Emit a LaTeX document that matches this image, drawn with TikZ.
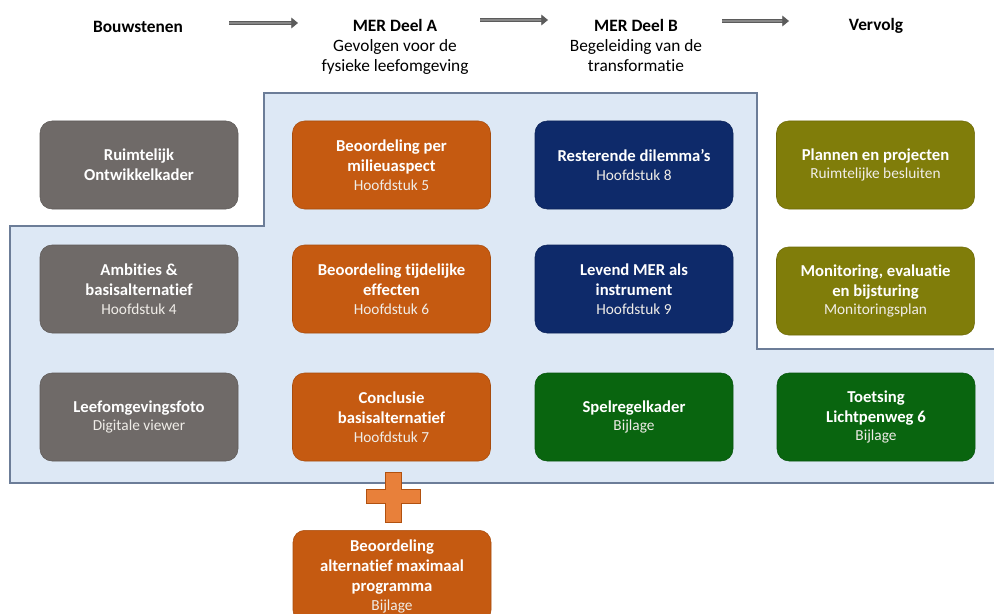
\documentclass[tikz,border=0pt]{standalone}
\usepackage{fontspec}
\setmainfont{Carlito}[Ligatures=NoCommon]
\usetikzlibrary{arrows.meta}
\definecolor{cgray}{HTML}{6F6A68}
\definecolor{corange}{HTML}{C55A11}
\definecolor{cplus}{HTML}{E8803A}
\definecolor{cnavy}{HTML}{0E2A6A}
\definecolor{colive}{HTML}{807D0A}
\definecolor{cgreen}{HTML}{09650F}
\definecolor{cregion}{HTML}{DDE8F5}
\definecolor{cregionline}{HTML}{6C7D98}
\definecolor{csub}{HTML}{F0EDE8}
\definecolor{carrow}{HTML}{7A7A7A}
\tikzset{
  boxbase/.style={rounded corners=9pt, minimum width=148.5pt, minimum height=66pt,
    align=center, text=white, inner sep=2pt,
    font=\fontsize{12.5}{15}\selectfont\bfseries},
  graybox/.style={boxbase, fill=cgray, draw=cgray!85!black, line width=0.4pt},
  orangebox/.style={boxbase, fill=corange, draw=corange!85!black, line width=0.4pt},
  navybox/.style={boxbase, fill=cnavy, draw=cnavy!85!black, line width=0.4pt},
  olivebox/.style={boxbase, fill=colive, draw=colive!85!black, line width=0.4pt},
  greenbox/.style={boxbase, fill=cgreen, draw=cgreen!85!black, line width=0.4pt},
  headtext/.style={align=center, font=\fontsize{13}{15}\selectfont, inner sep=0pt},
  headarrow/.style={draw=carrow!75!black, line width=0.6pt, double=carrow!90,
    double distance=2.2pt, -{Triangle[length=5pt,width=8pt,fill=carrow!75!black]}},
}
\newcommand{\subt}[1]{\\[-1pt]{\fontsize{11.5}{14}\selectfont\mdseries\color{csub}#1}}
\begin{document}
\begin{tikzpicture}[x=0.75pt,y=-0.75pt]
\useasboundingbox (0,0) rectangle (994,613);
\begin{scope}
\clip (0,0) rectangle (994,613);
% region
\draw[fill=cregion, draw=cregionline, line width=1.1pt]
  (264,93) -- (757,93) -- (757,349) -- (1000,349) -- (1000,483) -- (10,483)
  -- (10,226) -- (264,226) -- cycle;

% header
\node[headtext, font=\fontsize{13}{15}\selectfont\bfseries] (h1) at (138,27) {Bouwstenen};
\node[headtext, anchor=north] (h2) at (395,19) {\textbf{MER Deel A}\\Gevolgen voor de\\fysieke leefomgeving};
\node[headtext, anchor=north] (h3) at (636,19) {\textbf{MER Deel B}\\Begeleiding van de\\transformatie};
\node[headtext, font=\fontsize{13}{15}\selectfont\bfseries] (h4) at (876,26) {Vervolg};
\coordinate (a1s) at (229,23); \coordinate (a1e) at (298,23);
\coordinate (a2s) at (480,20); \coordinate (a2e) at (548,20);
\coordinate (a3s) at (722,21); \coordinate (a3e) at (789,21);
\draw[headarrow] (a1s) -- (a1e);
\draw[headarrow] (a2s) -- (a2e);
\draw[headarrow] (a3s) -- (a3e);

% column 1
\node[graybox] (g1) at (139,165) {Ruimtelijk\\Ontwikkelkader};
\node[graybox] (g2) at (139,289) {Ambities \&\\basisalternatief\subt{Hoofdstuk 4}};
\node[graybox] (g3) at (139,417) {Leefomgevingsfoto\subt{Digitale viewer}};
% column 2
\node[orangebox] (o1) at (391.5,165) {Beoordeling per\\milieuaspect\subt{Hoofdstuk 5}};
\node[orangebox] (o2) at (391.5,289) {Beoordeling tijdelijke\\effecten\subt{Hoofdstuk 6}};
\node[orangebox] (o3) at (391.5,417) {Conclusie\\basisalternatief\subt{Hoofdstuk 7}};
% column 3
\node[navybox] (n1) at (634,165) {Resterende dilemma’s\subt{Hoofdstuk 8}};
\node[navybox] (n2) at (634,289) {Levend MER als\\instrument\subt{Hoofdstuk 9}};
\node[greenbox] (s1) at (634,417) {Spelregelkader\subt{Bijlage}};
% column 4
\node[olivebox] (p1) at (875.5,165) {Plannen en projecten\subt{Ruimtelijke besluiten}};
\node[olivebox] (p2) at (875.5,291) {Monitoring, evaluatie\\en bijsturing\subt{Monitoringsplan}};
\node[greenbox] (t1) at (876,417) {Toetsing\\Lichtpenweg 6\subt{Bijlage}};

% plus
\draw[fill=cplus, draw=corange!90!black, line width=0.6pt]
  (385,472) -- (401,472) -- (401,489) -- (420,489) -- (420,503) -- (401,503)
  -- (401,522) -- (385,522) -- (385,503) -- (366,503) -- (366,489) -- (385,489) -- cycle;

% bottom box
\node[orangebox, minimum height=69pt, anchor=north] (b1) at (392,530)
  {Beoordeling\\alternatief maximaal\\programma\subt{Bijlage}};
\end{scope}
\end{tikzpicture}
\end{document}
